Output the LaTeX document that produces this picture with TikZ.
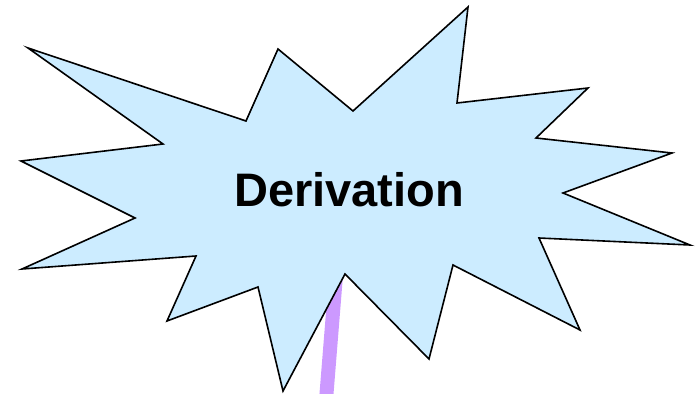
\documentclass[tikz,border=0pt]{standalone}
\usepackage{fontspec}
\setmainfont{Liberation Sans}
\usepackage{xcolor}
\usepackage{tikz}
\definecolor{burstblue}{HTML}{CCECFF}
\definecolor{stempurple}{HTML}{CC99FF}
\tikzset{
  burst/.style={
    draw,
    line width=1.6pt,
    line join=miter,
    fill=burstblue
  },
  burststem/.style={
    line width=14pt,
    draw=stempurple
  },
  burstlabel/.style={
    anchor=base,
    inner sep=0pt,
    font=\fontsize{47}{56}\selectfont\bfseries
  }
}

\begin{document}
\begin{tikzpicture}[x=1pt, y=-1pt]
    \useasboundingbox (0,0) rectangle (695,393);

    % stem behind the burst
    \coordinate (stemtop) at (342,200);
    \coordinate (stembot) at (326,400);
    \draw[burststem] (stemtop) -- (stembot);

    % the burst itself
    \draw[burst] (28,48) -- (246,121) -- (278,49) -- (353,111) -- (468,7)
      -- (457,103) -- (588,88) -- (536,138) -- (672,153) -- (563,193)
      -- (690,245) -- (539,238) -- (580,330) -- (453,265) -- (429,359)
      -- (345,274) -- (283,391) -- (258,287) -- (167,321) -- (196,256)
      -- (22,269) -- (135,218) -- (21,161) -- (163,144) -- cycle;

    \node[burstlabel] (label) at (349,206) {Derivation};
  \end{tikzpicture}
\end{document}
